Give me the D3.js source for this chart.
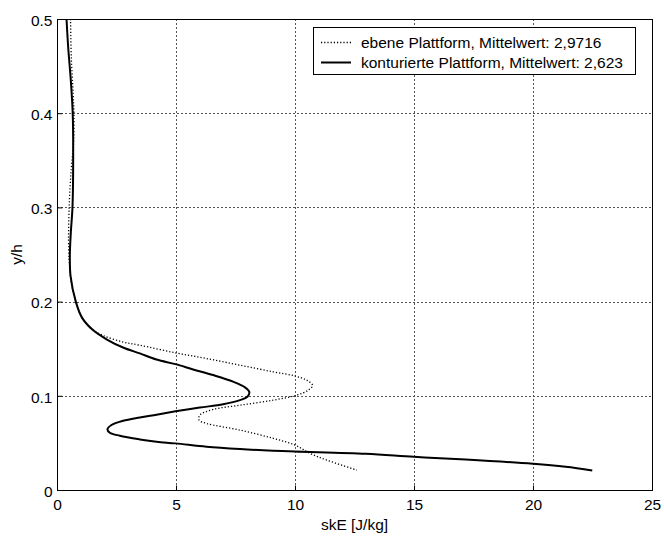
<!DOCTYPE html>
<html><head><meta charset="utf-8">
<script src="https://cdn.jsdelivr.net/npm/d3@7"></script>
<style>body{margin:0;background:#fff}svg{display:block}text{font-family:"Liberation Sans",Arial,sans-serif;fill:#000}</style>
</head><body><svg id="c" width="664" height="536"></svg>
<script>
const xTicks = [0, 5, 10, 15, 20, 25];
const yTicks = [0, 0.1, 0.2, 0.3, 0.4, 0.5];
const seriesNames = ["ebene Plattform, Mittelwert: 2,9716", "konturierte Plattform, Mittelwert: 2,623"];
const xLabel = "skE [J/kg]";
const yLabel = "y/h";
// ebene Plattform: [skE, y/h]
const ebene = [[0.57,0.50],[0.6,0.46],[0.68,0.42],[0.71,0.40],[0.7,0.37],[0.6,0.341],[0.51,0.30],[0.49,0.256],[0.53,0.238],[0.6,0.22],[0.79,0.20],[1.05,0.183],[1.5,0.170],[1.94,0.164],[2.78,0.157],[3.48,0.1537],[4.98,0.1456],[6.28,0.1396],[7.69,0.1325],[9.09,0.1254],[10.0,0.121],[10.49,0.1166],[10.74,0.111],[10.56,0.106],[10.07,0.1007],[9.09,0.0954],[7.69,0.090],[6.56,0.0855],[6.0,0.0795],[5.97,0.0742],[6.28,0.0707],[7.69,0.0636],[9.09,0.0548],[10.0,0.0477],[10.63,0.0389],[11.33,0.0318],[12.6,0.0212]];
// konturierte Plattform
const konturiert = [[0.40,0.50],[0.47,0.47],[0.58,0.435],[0.66,0.40],[0.68,0.36],[0.65,0.30],[0.58,0.273],[0.54,0.249],[0.57,0.227],[0.79,0.20],[1.05,0.183],[1.5,0.170],[2.08,0.160],[2.8,0.151],[3.48,0.145],[4.18,0.1385],[4.98,0.1336],[5.72,0.128],[6.56,0.122],[7.4,0.115],[7.9,0.109],[8.08,0.104],[8.0,0.099],[7.69,0.0954],[6.98,0.091],[6.0,0.0875],[4.98,0.0835],[4.18,0.080],[3.48,0.077],[2.78,0.0735],[2.29,0.069],[2.12,0.0643],[2.22,0.0608],[2.64,0.0576],[3.48,0.0537],[4.18,0.0512],[4.98,0.0495],[6.28,0.046],[7.69,0.0435],[9.09,0.0417],[10.0,0.0408],[12.98,0.0384],[15,0.0352],[17.17,0.0324],[20,0.0278],[21.37,0.0246],[22.49,0.0208]];

const L = 57, R = 652, T = 19, B = 490;
const FS = 15.5;
const svg = d3.select("#c");
const x = d3.scaleLinear().domain([0, 25]).range([L, R]);
const y = d3.scaleLinear().domain([0, 0.5]).range([B, T]);

// grid
const g = svg.append("g");
g.selectAll("line.gx").data(xTicks.slice(1, -1)).join("line")
  .attr("x1", d => Math.round(x(d)) + 0.5).attr("x2", d => Math.round(x(d)) + 0.5).attr("y1", T).attr("y2", B)
  .attr("stroke", "#555").attr("stroke-dasharray", "2,2").attr("stroke-width", 1);
g.selectAll("line.gy").data(yTicks.slice(1, -1)).join("line")
  .attr("y1", d => Math.round(y(d)) + 0.5).attr("y2", d => Math.round(y(d)) + 0.5).attr("x1", L).attr("x2", R)
  .attr("stroke", "#555").attr("stroke-dasharray", "2,2").attr("stroke-width", 1);

// axes
const xa = svg.append("g").attr("transform", `translate(0,${B + 0.5})`)
  .call(d3.axisBottom(x).tickValues(xTicks).tickSize(-5).tickPadding(8.5).tickFormat(d3.format("d")));
const ya = svg.append("g").attr("transform", `translate(${L + 0.5},0)`)
  .call(d3.axisLeft(y).tickValues(yTicks).tickSize(-5).tickPadding(5).tickFormat(d => d === 0 ? "0" : d3.format(".1f")(d)));
[xa, ya].forEach(a => {
  a.select(".domain").remove();
  a.selectAll("line").attr("stroke", "#000");
  a.selectAll("text").attr("font-size", FS).attr("font-family", '"Liberation Sans",Arial,sans-serif').attr("fill", "#000");
});
xa.selectAll("text").attr("dy", "0.71em");
ya.selectAll("text").attr("dy", "0.4em");
svg.append("rect").attr("x", L + 0.5).attr("y", T + 0.5).attr("width", R - L).attr("height", B - T)
  .attr("fill", "none").attr("stroke", "#000");

// lines
const line = d3.line().x(d => x(d[0])).y(d => y(d[1])).curve(d3.curveCatmullRom.alpha(0.5));
svg.append("path").datum(ebene).attr("d", line).attr("fill", "none").attr("stroke", "#000")
  .attr("stroke-width", 1.3).attr("stroke-dasharray", "1.2,2");
svg.append("path").datum(konturiert).attr("d", line).attr("fill", "none").attr("stroke", "#000")
  .attr("stroke-width", 2);

// labels
svg.append("text").attr("x", (L + R) / 2).attr("y", 530).attr("text-anchor", "middle").attr("font-size", FS).text(xLabel);
svg.append("text").attr("transform", `translate(22,${(T + B) / 2}) rotate(-90)`).attr("text-anchor", "middle")
  .attr("font-size", FS).text(yLabel);

// legend
const lg = svg.append("g");
lg.append("rect").attr("x", 313.5).attr("y", 27.5).attr("width", 322).attr("height", 47)
  .attr("fill", "#fff").attr("stroke", "#000");
const styles = [{w: 1.3, da: "1.2,2"}, {w: 2, da: null}];
seriesNames.forEach((n, i) => {
  const yy = 42.5 + i * 20;
  lg.append("line").attr("x1", 321).attr("x2", 351).attr("y1", yy).attr("y2", yy)
    .attr("stroke", "#000").attr("stroke-width", styles[i].w).attr("stroke-dasharray", styles[i].da);
  lg.append("text").attr("x", 361).attr("y", yy).attr("dy", "0.36em").attr("font-size", FS).text(n);
});
</script></body></html>
